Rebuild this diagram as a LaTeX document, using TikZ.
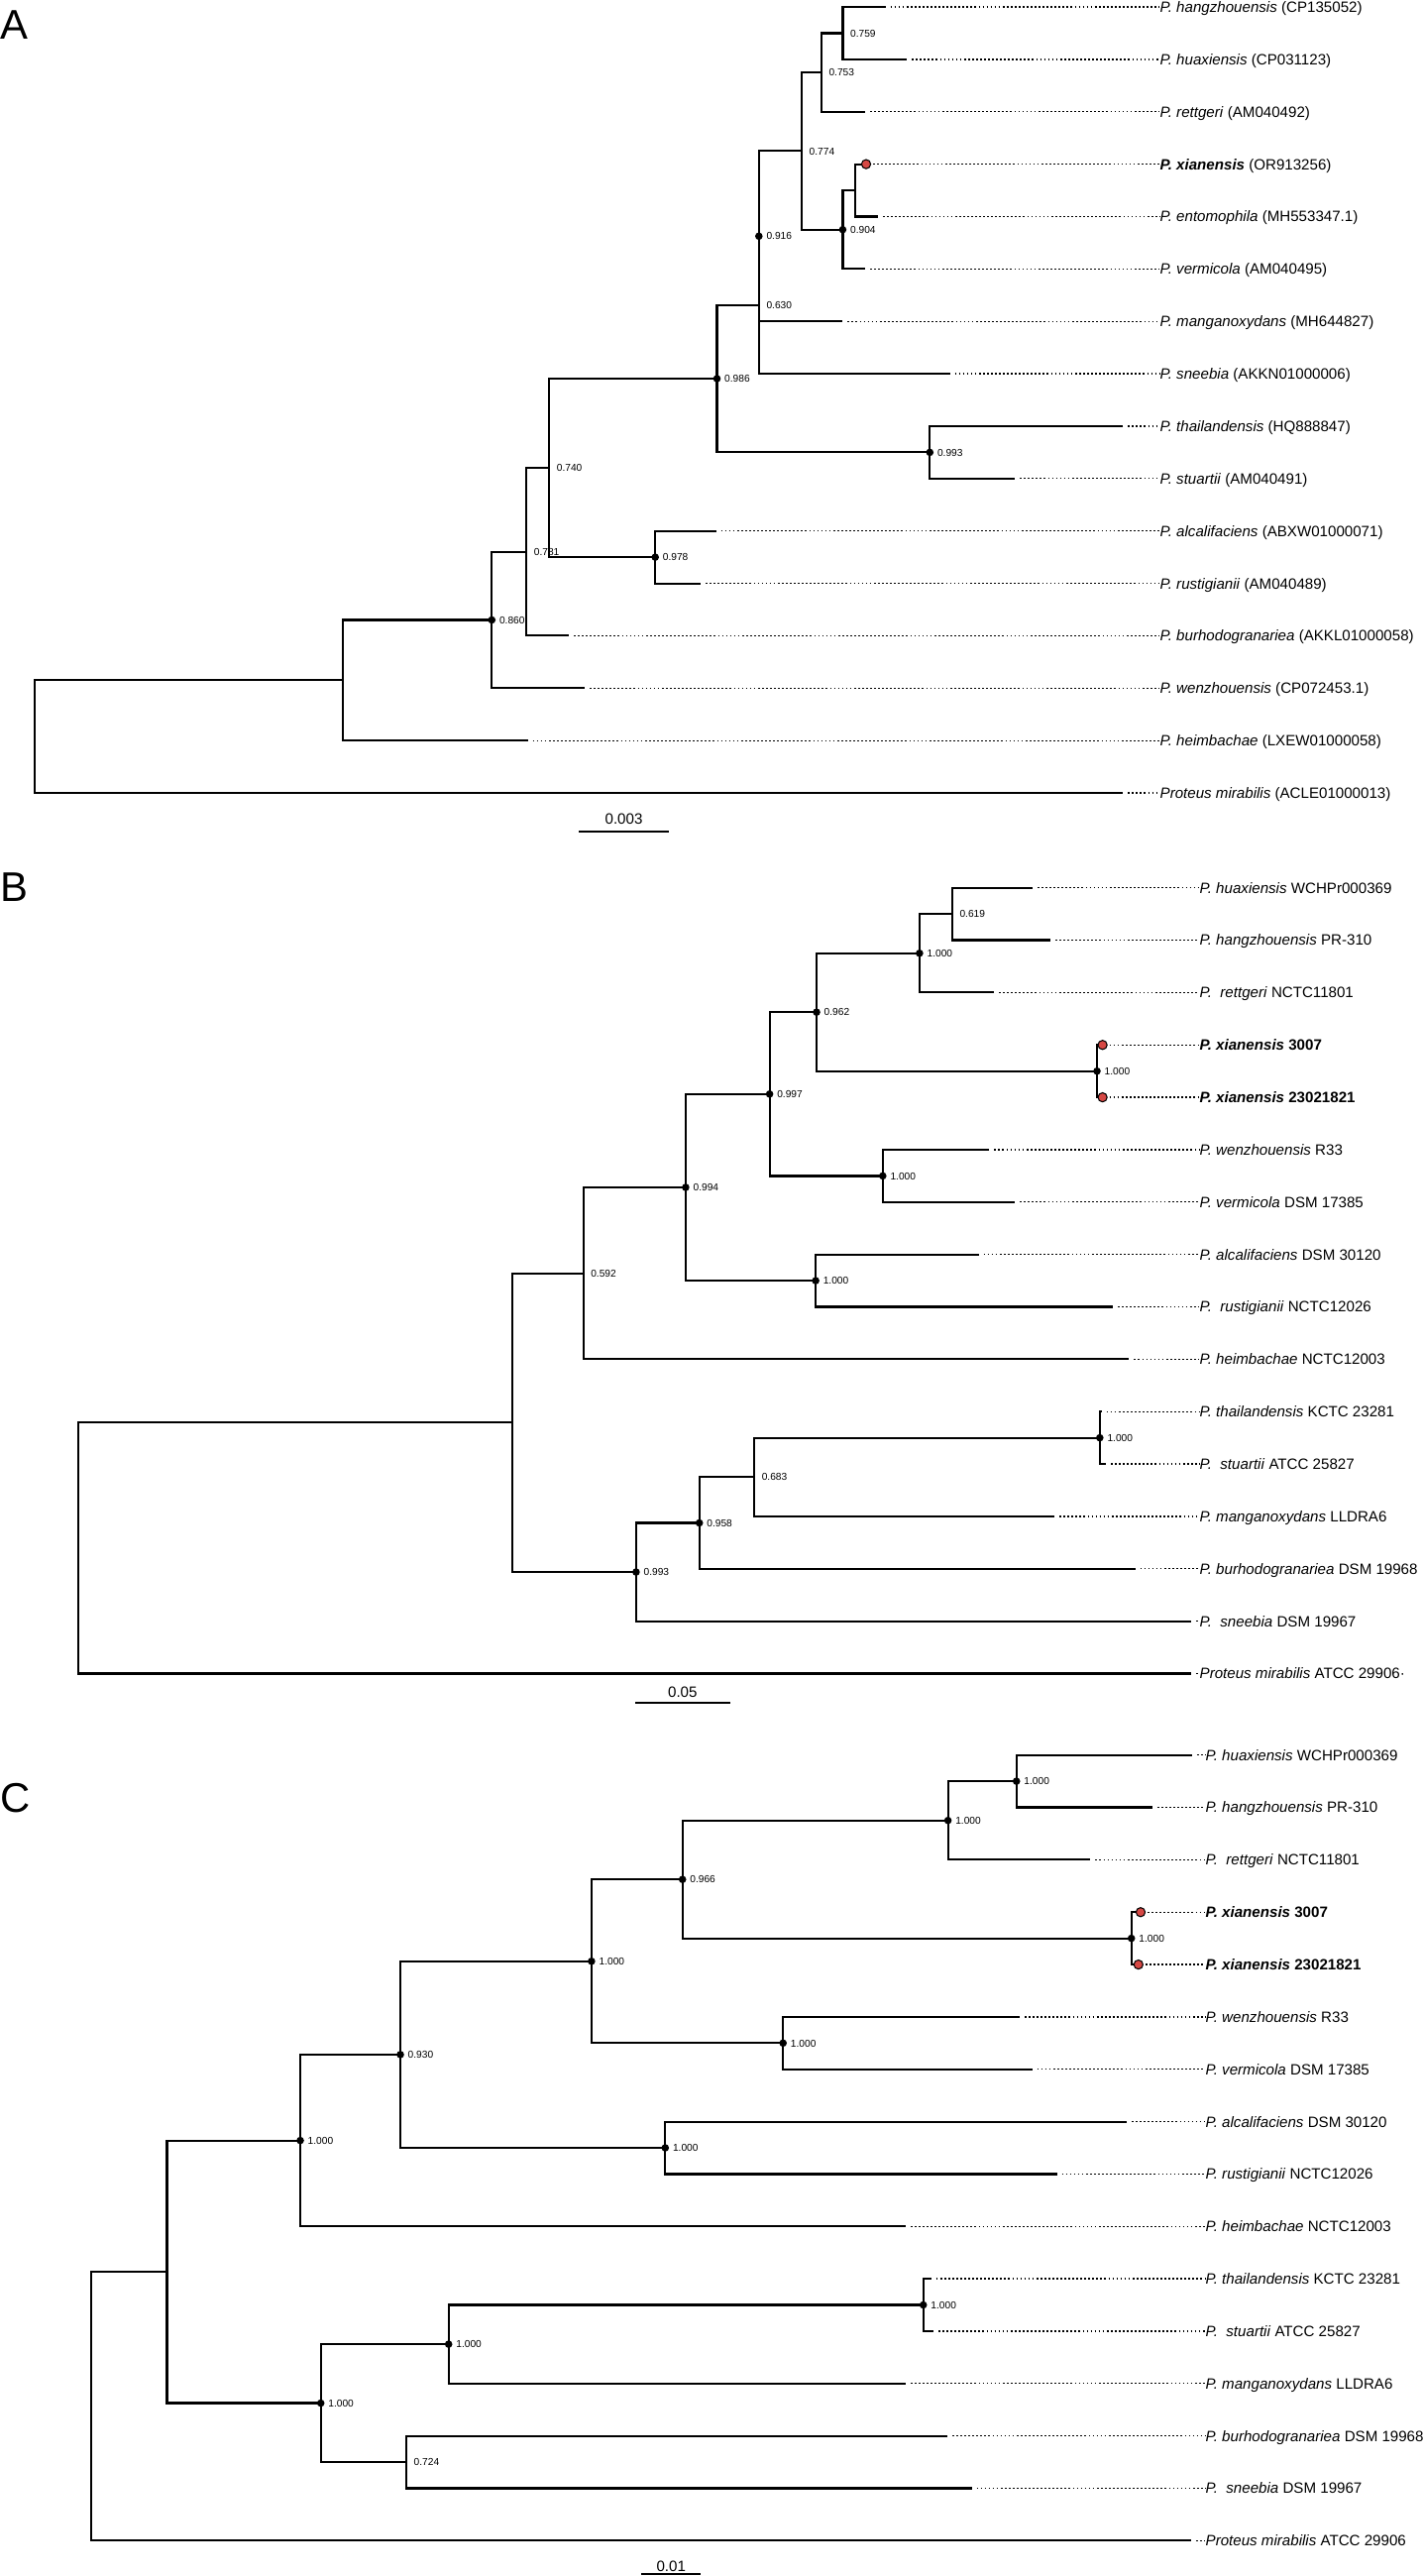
\documentclass[tikz,border=0pt]{standalone}
\usepackage{fontspec}
\setmainfont{Liberation Sans}
\usetikzlibrary{positioning}
\definecolor{xred}{RGB}{214,72,68}

\tikzstyle{bS}=[line width=0.62pt]
\tikzstyle{dS}=[line width=0.36pt,dash pattern=on 0.5pt off 0.65pt,shorten <=0.5mm]
\tikzstyle{dR}=[line width=0.36pt,dash pattern=on 0.5pt off 0.65pt,shorten <=0.7mm]
\tikzstyle{tL}=[anchor=west,inner sep=0pt,font=\fontsize{4.3}{5}\selectfont,text height=3.08pt,text depth=0pt]
\tikzstyle{bL}=[inner sep=0pt,font=\fontsize{2.9}{3.4}\selectfont,text height=2.1pt,text depth=0pt]
\tikzstyle{sL}=[inner sep=0pt,font=\fontsize{4.3}{5}\selectfont,text height=3.08pt,text depth=0pt]
\tikzstyle{pL}=[anchor=west,inner sep=0pt,font=\fontsize{11.9}{14}\selectfont]
\tikzstyle{rD}=[fill=xred,draw=black,line width=0.3pt]

\begin{document}
\begin{tikzpicture}[x=0.1mm,y=-0.1mm]
\useasboundingbox (0,0) rectangle (1437,2599);

%%%%%%%%%%%%%%%% A
\node[pL] (pA) at (0,25) {A};
% tips
\coordinate (a1) at (893.6,7.0);
\coordinate (a2) at (915.2,59.9);
\coordinate (a3) at (873,112.7);
\coordinate (a4) at (874,165.6);
\coordinate (a5) at (886,218.5);
\coordinate (a6) at (873,271.4);
\coordinate (a7) at (850.4,324.2);
\coordinate (a8) at (958.5,377.1);
\coordinate (a9) at (1133.3,430.0);
\coordinate (a10) at (1024.2,482.8);
\coordinate (a11) at (722.6,535.7);
\coordinate (a12) at (707,588.6);
\coordinate (a13) at (574,641.4);
\coordinate (a14) at (590,694.3);
\coordinate (a15) at (532.6,747.2);
\coordinate (a16) at (1133.3,800.1);
% inner nodes
\coordinate (a759) at (850.4,33.45);
\coordinate (a753) at (828.8,73.1);
\coordinate (axe) at (862.6,192.05);
\coordinate (a904) at (850.4,231.7);
\coordinate (a774) at (809,152.4);
\coordinate (a916) at (765.8,238.3);
\coordinate (a630) at (765.8,307.7);
\coordinate (a993) at (938.3,456.4);
\coordinate (a986) at (723.5,382.05);
\coordinate (a978) at (661.2,562.15);
\coordinate (a740) at (554.2,472.1);
\coordinate (a781) at (531.2,556.75);
\coordinate (a860) at (496.3,625.5);
\coordinate (ax) at (345.7,686.35);
\coordinate (aroot) at (34.9,743.2);
% labels
\node[tL] (la1) at (1170,7.0) {\textit{P. hangzhouensis} (CP135052)};
\node[tL] (la2) at (1170,59.9) {\textit{P. huaxiensis} (CP031123)};
\node[tL] (la3) at (1170,112.7) {\textit{P. rettgeri} (AM040492)};
\node[tL] (la4) at (1170,165.6) {\textbf{\textit{P. xianensis}} (OR913256)};
\node[tL] (la5) at (1170,218.5) {\textit{P. entomophila} (MH553347.1)};
\node[tL] (la6) at (1170,271.4) {\textit{P. vermicola} (AM040495)};
\node[tL] (la7) at (1170,324.2) {\textit{P. manganoxydans} (MH644827)};
\node[tL] (la8) at (1170,377.1) {\textit{P. sneebia} (AKKN01000006)};
\node[tL] (la9) at (1170,430.0) {\textit{P. thailandensis} (HQ888847)};
\node[tL] (la10) at (1170,482.8) {\textit{P. stuartii} (AM040491)};
\node[tL] (la11) at (1170,535.7) {\textit{P. alcalifaciens} (ABXW01000071)};
\node[tL] (la12) at (1170,588.6) {\textit{P. rustigianii} (AM040489)};
\node[tL] (la13) at (1170,641.4) {\textit{P. burhodogranariea} (AKKL01000058)};
\node[tL] (la14) at (1170,694.3) {\textit{P. wenzhouensis} (CP072453.1)};
\node[tL] (la15) at (1170,747.2) {\textit{P. heimbachae} (LXEW01000058)};
\node[tL] (la16) at (1170,800.1) {\textit{Proteus mirabilis} (ACLE01000013)};
\foreach \i in {1,2,3,5,6,7,8,9,10,11,12,13,14,15,16}
  \draw[dS] (a\i) -- (la\i);
\draw[dR] (a4) -- (la4);
% branches
\draw[bS] (a1) -| (a759) |- (a2);
\draw[bS] (a759) -| (a753) |- (a3);
\draw[bS] (a4) -| (axe) |- (a5);
\draw[bS] (axe) -| (a904) |- (a6);
\draw[bS] (a753) -| (a774) |- (a904);
\draw[bS] (a774) -| (a916) |- (a7);
\draw[bS] (a916) -| (a630) |- (a8);
\draw[bS] (a9) -| (a993) |- (a10);
\draw[bS] (a630) -| (a986) |- (a993);
\draw[bS] (a11) -| (a978) |- (a12);
\draw[bS] (a986) -| (a740) |- (a978);
\draw[bS] (a740) -| (a781) |- (a13);
\draw[bS] (a781) -| (a860) |- (a14);
\draw[bS] (a860) -| (ax) |- (a15);
\draw[bS] (ax) -| (aroot) |- (a16);
% support values
\node[bL,right=0.7mm of a759] (a759l) {0.759};
\node[bL,right=0.7mm of a753] (a753l) {0.753};
\node[bL,right=0.7mm of a774] (a774l) {0.774};
\node[bL,right=0.7mm of a904] (a904l) {0.904};
\node[bL,right=0.7mm of a916] (a916l) {0.916};
\node[bL,right=0.7mm of a630] (a630l) {0.630};
\node[bL,right=0.7mm of a986] (a986l) {0.986};
\node[bL,right=0.7mm of a993] (a993l) {0.993};
\node[bL,right=0.7mm of a740] (a740l) {0.740};
\node[bL,right=0.7mm of a978] (a978l) {0.978};
\node[bL,right=0.7mm of a781] (a781l) {0.781};
\node[bL,right=0.7mm of a860] (a860l) {0.860};
\foreach \n in {a904,a916,a986,a993,a978,a860}
  \fill (\n) circle (0.38mm);
\filldraw[rD] (a4) circle (0.46mm);
% scale
\coordinate (sa1) at (584,839.3);
\coordinate (sa2) at (675,839.3);
\draw[bS] (sa1) -- (sa2);
\node[sL] (saL) at (629.5,826) {0.003};

%%%%%%%%%%%%%%%% B
\node[pL] (pB) at (0,895) {B};
% tips
\coordinate (b1) at (1042,895.7);
\coordinate (b2) at (1060,948.55);
\coordinate (b3) at (1003.1,1001.4);
\coordinate (b4) at (1112.6,1054.25);
\coordinate (b5) at (1112.6,1107.1);
\coordinate (b6) at (998.4,1159.95);
\coordinate (b7) at (1024.2,1212.8);
\coordinate (b8) at (987.6,1265.65);
\coordinate (b9) at (1123,1318.5);
\coordinate (b10) at (1139.4,1371.35);
\coordinate (b11) at (1111.6,1424.2);
\coordinate (b12) at (1116,1477.05);
\coordinate (b13) at (1064.2,1529.9);
\coordinate (b14) at (1145.5,1582.75);
\coordinate (b15) at (1201.9,1635.6);
\coordinate (b16) at (1201.9,1688.45);
% inner nodes
\coordinate (b619) at (960.8,922.1);
\coordinate (b1a) at (927.9,961.75);
\coordinate (bxi) at (1107,1080.7);
\coordinate (b962) at (824,1021.2);
\coordinate (bwv) at (890.8,1186.4);
\coordinate (b997) at (776.6,1103.8);
\coordinate (bar) at (823.1,1292.1);
\coordinate (b994) at (691.9,1197.95);
\coordinate (b592) at (588.6,1284.65);
\coordinate (bts) at (1109.8,1450.6);
\coordinate (b683) at (761.1,1490.25);
\coordinate (b958) at (705.7,1536.5);
\coordinate (b993) at (641.9,1586.05);
\coordinate (bx) at (517.4,1435.35);
\coordinate (broot) at (79,1561.9);
% labels
\node[tL] (lb1) at (1210,895.7) {\textit{P. huaxiensis} WCHPr000369};
\node[tL] (lb2) at (1210,948.55) {\textit{P. hangzhouensis} PR-310};
\node[tL] (lb3) at (1210,1001.4) {\textit{P.\ \ rettgeri} NCTC11801};
\node[tL] (lb4) at (1210,1054.25) {\textbf{\textit{P. xianensis} 3007}};
\node[tL] (lb5) at (1210,1107.1) {\textbf{\textit{P. xianensis} 23021821}};
\node[tL] (lb6) at (1210,1159.95) {\textit{P. wenzhouensis} R33};
\node[tL] (lb7) at (1210,1212.8) {\textit{P. vermicola} DSM 17385};
\node[tL] (lb8) at (1210,1265.65) {\textit{P. alcalifaciens} DSM 30120};
\node[tL] (lb9) at (1210,1318.5) {\textit{P.\ \ rustigianii} NCTC12026};
\node[tL] (lb10) at (1210,1371.35) {\textit{P. heimbachae} NCTC12003};
\node[tL] (lb11) at (1210,1424.2) {\textit{P. thailandensis} KCTC 23281};
\node[tL] (lb12) at (1210,1477.05) {\textit{P.\ \ stuartii} ATCC 25827};
\node[tL] (lb13) at (1210,1529.9) {\textit{P. manganoxydans} LLDRA6};
\node[tL] (lb14) at (1210,1582.75) {\textit{P. burhodogranariea} DSM 19968};
\node[tL] (lb15) at (1210,1635.6) {\textit{P.\ \ sneebia} DSM 19967};
\node[tL] (lb16) at (1210,1688.45) {\textit{Proteus mirabilis} ATCC 29906·};
\foreach \i in {1,2,3,6,7,8,9,10,11,12,13,14,15,16}
  \draw[dS] (b\i) -- (lb\i);
\draw[dR] (b4) -- (lb4);
\draw[dR] (b5) -- (lb5);
% branches
\draw[bS] (b1) -| (b619) |- (b2);
\draw[bS] (b619) -| (b1a) |- (b3);
\draw[bS] (b4) -| (bxi) |- (b5);
\draw[bS] (b1a) -| (b962) |- (bxi);
\draw[bS] (b6) -| (bwv) |- (b7);
\draw[bS] (b962) -| (b997) |- (bwv);
\draw[bS] (b8) -| (bar) |- (b9);
\draw[bS] (b997) -| (b994) |- (bar);
\draw[bS] (b994) -| (b592) |- (b10);
\draw[bS] (b11) -| (bts) |- (b12);
\draw[bS] (bts) -| (b683) |- (b13);
\draw[bS] (b683) -| (b958) |- (b14);
\draw[bS] (b958) -| (b993) |- (b15);
\draw[bS] (b592) -| (bx) |- (b993);
\draw[bS] (bx) -| (broot) |- (b16);
% support values
\node[bL,right=0.7mm of b619] (b619l) {0.619};
\node[bL,right=0.7mm of b1a] (b1al) {1.000};
\node[bL,right=0.7mm of bxi] (bxil) {1.000};
\node[bL,right=0.7mm of b962] (b962l) {0.962};
\node[bL,right=0.7mm of bwv] (bwvl) {1.000};
\node[bL,right=0.7mm of b997] (b997l) {0.997};
\node[bL,right=0.7mm of bar] (barl) {1.000};
\node[bL,right=0.7mm of b994] (b994l) {0.994};
\node[bL,right=0.7mm of b592] (b592l) {0.592};
\node[bL,right=0.7mm of bts] (btsl) {1.000};
\node[bL,right=0.7mm of b683] (b683l) {0.683};
\node[bL,right=0.7mm of b958] (b958l) {0.958};
\node[bL,right=0.7mm of b993] (b993l) {0.993};
\foreach \n in {b1a,bxi,b962,bwv,b997,bar,b994,bts,b958,b993}
  \fill (\n) circle (0.38mm);
\filldraw[rD] (b4) circle (0.46mm);
\filldraw[rD] (b5) circle (0.46mm);
% scale
\coordinate (sb1) at (641,1718.3);
\coordinate (sb2) at (736.7,1718.3);
\draw[bS] (sb1) -- (sb2);
\node[sL] (sbL) at (688.8,1706.7) {0.05};

%%%%%%%%%%%%%%%% C
\node[pL] (pC) at (0,1814) {C};
% tips
\coordinate (c1) at (1202.8,1770.7);
\coordinate (c2) at (1162.9,1823.54);
\coordinate (c3) at (1100.4,1876.38);
\coordinate (c4) at (1151,1929.22);
\coordinate (c5) at (1148.8,1982.06);
\coordinate (c6) at (1029,2034.9);
\coordinate (c7) at (1041.6,2087.74);
\coordinate (c8) at (1137,2140.58);
\coordinate (c9) at (1066.5,2193.42);
\coordinate (c10) at (913.8,2246.26);
\coordinate (c11) at (939.7,2299.1);
\coordinate (c12) at (942,2351.94);
\coordinate (c13) at (913.8,2404.78);
\coordinate (c14) at (956.1,2457.62);
\coordinate (c15) at (980.5,2510.46);
\coordinate (c16) at (1201.9,2563.3);
% inner nodes
\coordinate (chh) at (1025.7,1797.1);
\coordinate (chr) at (956.6,1836.7);
\coordinate (cxi) at (1141.7,1955.6);
\coordinate (c966) at (688.7,1896.2);
\coordinate (cwv) at (790.2,2061.3);
\coordinate (c1a) at (596.9,1978.75);
\coordinate (car) at (671.3,2167);
\coordinate (c930) at (404,2072.9);
\coordinate (c1b) at (303,2159.6);
\coordinate (cts) at (931.7,2325.5);
\coordinate (ctm) at (452.7,2365.1);
\coordinate (c724) at (410,2484);
\coordinate (c1c) at (323.7,2424.55);
\coordinate (cx) at (168.5,2292.1);
\coordinate (croot) at (91.8,2427.7);
% labels
\node[tL] (lc1) at (1216,1770.7) {\textit{P. huaxiensis} WCHPr000369};
\node[tL] (lc2) at (1216,1823.54) {\textit{P. hangzhouensis} PR-310};
\node[tL] (lc3) at (1216,1876.38) {\textit{P.\ \ rettgeri} NCTC11801};
\node[tL] (lc4) at (1216,1929.22) {\textbf{\textit{P. xianensis} 3007}};
\node[tL] (lc5) at (1216,1982.06) {\textbf{\textit{P. xianensis} 23021821}};
\node[tL] (lc6) at (1216,2034.9) {\textit{P. wenzhouensis} R33};
\node[tL] (lc7) at (1216,2087.74) {\textit{P. vermicola} DSM 17385};
\node[tL] (lc8) at (1216,2140.58) {\textit{P. alcalifaciens} DSM 30120};
\node[tL] (lc9) at (1216,2193.42) {\textit{P. rustigianii} NCTC12026};
\node[tL] (lc10) at (1216,2246.26) {\textit{P. heimbachae} NCTC12003};
\node[tL] (lc11) at (1216,2299.1) {\textit{P. thailandensis} KCTC 23281};
\node[tL] (lc12) at (1216,2351.94) {\textit{P.\ \ stuartii} ATCC 25827};
\node[tL] (lc13) at (1216,2404.78) {\textit{P. manganoxydans} LLDRA6};
\node[tL] (lc14) at (1216,2457.62) {\textit{P. burhodogranariea} DSM 19968};
\node[tL] (lc15) at (1216,2510.46) {\textit{P.\ \ sneebia} DSM 19967};
\node[tL] (lc16) at (1216,2563.3) {\textit{Proteus mirabilis} ATCC 29906};
\foreach \i in {1,2,3,6,7,8,9,10,11,12,13,14,15,16}
  \draw[dS] (c\i) -- (lc\i);
\draw[dR] (c4) -- (lc4);
\draw[dR] (c5) -- (lc5);
% branches
\draw[bS] (c1) -| (chh) |- (c2);
\draw[bS] (chh) -| (chr) |- (c3);
\draw[bS] (c4) -| (cxi) |- (c5);
\draw[bS] (chr) -| (c966) |- (cxi);
\draw[bS] (c6) -| (cwv) |- (c7);
\draw[bS] (c966) -| (c1a) |- (cwv);
\draw[bS] (c8) -| (car) |- (c9);
\draw[bS] (c1a) -| (c930) |- (car);
\draw[bS] (c930) -| (c1b) |- (c10);
\draw[bS] (c11) -| (cts) |- (c12);
\draw[bS] (cts) -| (ctm) |- (c13);
\draw[bS] (c14) -| (c724) |- (c15);
\draw[bS] (ctm) -| (c1c) |- (c724);
\draw[bS] (c1b) -| (cx) |- (c1c);
\draw[bS] (cx) -| (croot) |- (c16);
% support values
\node[bL,right=0.7mm of chh] (chhl) {1.000};
\node[bL,right=0.7mm of chr] (chrl) {1.000};
\node[bL,right=0.7mm of cxi] (cxil) {1.000};
\node[bL,right=0.7mm of c966] (c966l) {0.966};
\node[bL,right=0.7mm of cwv] (cwvl) {1.000};
\node[bL,right=0.7mm of c1a] (c1al) {1.000};
\node[bL,right=0.7mm of car] (carl) {1.000};
\node[bL,right=0.7mm of c930] (c930l) {0.930};
\node[bL,right=0.7mm of c1b] (c1bl) {1.000};
\node[bL,right=0.7mm of cts] (ctsl) {1.000};
\node[bL,right=0.7mm of ctm] (ctml) {1.000};
\node[bL,right=0.7mm of c724] (c724l) {0.724};
\node[bL,right=0.7mm of c1c] (c1cl) {1.000};
\foreach \n in {chh,chr,cxi,c966,cwv,c1a,car,c930,c1b,cts,ctm,c1c}
  \fill (\n) circle (0.38mm);
\filldraw[rD] (c4) circle (0.46mm);
\filldraw[rD] (c5) circle (0.46mm);
% scale
\coordinate (sc1) at (647.4,2597.3);
\coordinate (sc2) at (707,2597.3);
\draw[bS] (sc1) -- (sc2);
\node[sL] (scL) at (677.2,2589.5) {0.01};
\end{tikzpicture}
\end{document}
